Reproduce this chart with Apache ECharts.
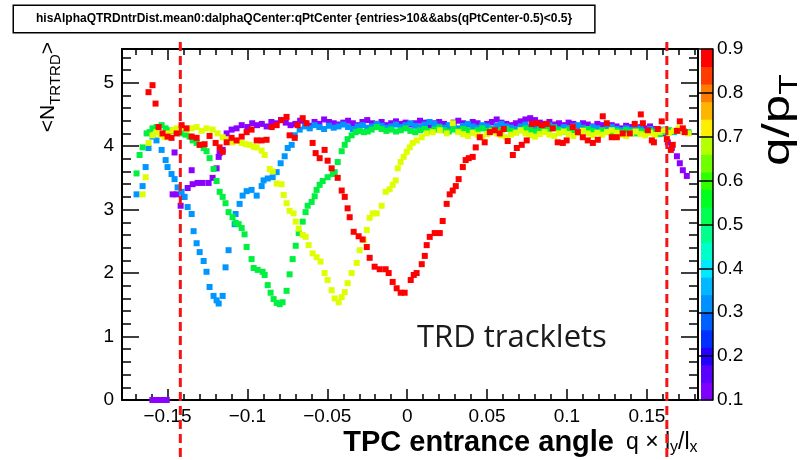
<!DOCTYPE html>
<html>
<head>
<meta charset="utf-8">
<title>hisAlphaQTRDntrDist</title>
<script src="https://cdn.jsdelivr.net/npm/echarts@6/dist/echarts.min.js"></script>
<style>
  html, body { margin: 0; padding: 0; background: #fff; }
  #chart { width: 807px; height: 460px; }
</style>
</head>
<body>
<div id="chart"></div>
<script>
// <N_TRTRD> versus TPC entrance angle, one series per q/pT bin
const qptValues = [0.1, 0.3, 0.5, 0.7, 0.9];
const qptColors = ['#8c00ff', '#0096ff', '#00f040', '#dfff00', '#ff0000'];

const ptsQ01 = [
  [-0.1595, 0], [-0.1565, 0], [-0.1535, 0], [-0.1505, 0],
  [-0.1468, 3.24], [-0.1456, 3.90], [-0.1443, 3.24], [-0.1418, 3.06], [-0.1400, 3.20], [-0.1374, 3.34],
  [-0.1349, 3.62], [-0.1343, 3.40], [-0.1312, 3.42], [-0.1281, 3.42], [-0.1243, 3.42], [-0.1218, 3.50],
  [-0.1193, 3.65], [-0.1180, 3.83], [-0.1174, 3.89], [-0.1155, 3.94], [-0.1130, 4.20], [-0.1099, 4.26],
  [-0.1068, 4.28], [-0.1036, 4.33],
  [-0.100, 4.30], [-0.097, 4.36], [-0.094, 4.33], [-0.091, 4.35], [-0.088, 4.31], [-0.085, 4.38],
  [-0.082, 4.36], [-0.079, 4.41], [-0.076, 4.37], [-0.073, 4.33], [-0.070, 4.35], [-0.067, 4.40],
  [-0.064, 4.36], [-0.061, 4.32], [-0.058, 4.38], [-0.055, 4.35], [-0.052, 4.42], [-0.049, 4.38],
  [-0.046, 4.36], [-0.043, 4.34], [-0.040, 4.37], [-0.037, 4.40], [-0.034, 4.36], [-0.031, 4.33],
  [-0.028, 4.38], [-0.025, 4.41], [-0.022, 4.36], [-0.019, 4.35], [-0.016, 4.38], [-0.013, 4.33],
  [-0.010, 4.36], [-0.007, 4.39], [-0.004, 4.35], [-0.001, 4.37], [0.002, 4.34], [0.005, 4.36],
  [0.008, 4.40], [0.011, 4.37], [0.014, 4.33], [0.017, 4.36], [0.020, 4.38], [0.023, 4.35],
  [0.026, 4.32], [0.029, 4.37], [0.032, 4.40], [0.035, 4.36], [0.038, 4.34], [0.041, 4.38],
  [0.044, 4.36], [0.047, 4.31], [0.050, 4.35], [0.053, 4.38], [0.056, 4.42], [0.059, 4.37],
  [0.062, 4.35], [0.065, 4.33], [0.068, 4.36], [0.071, 4.39], [0.074, 4.42], [0.077, 4.44],
  [0.080, 4.41], [0.083, 4.37], [0.086, 4.35], [0.089, 4.38], [0.092, 4.34], [0.095, 4.36],
  [0.098, 4.33], [0.101, 4.37], [0.104, 4.35], [0.107, 4.32], [0.110, 4.36], [0.113, 4.34],
  [0.116, 4.31], [0.119, 4.35], [0.122, 4.33], [0.125, 4.30], [0.128, 4.33], [0.131, 4.31],
  [0.134, 4.28], [0.137, 4.32], [0.140, 4.30], [0.143, 4.27], [0.146, 4.30], [0.149, 4.28],
  [0.152, 4.31], [0.155, 4.27], [0.158, 4.25], [0.161, 4.20],
  [0.1631, 4.06], [0.1656, 3.97], [0.1688, 3.84], [0.1706, 3.73], [0.1725, 3.62], [0.1750, 3.53]
];

const ptsQ03 = [
  [-0.1694, 3.24], [-0.1656, 3.37], [-0.1637, 3.67], [-0.1619, 3.97], [-0.1594, 4.15], [-0.1569, 4.09],
  [-0.1537, 3.94], [-0.1512, 3.78], [-0.1500, 3.67], [-0.1475, 3.56], [-0.1456, 3.48], [-0.1437, 3.35],
  [-0.1412, 3.28], [-0.1393, 3.20], [-0.1374, 3.04], [-0.1349, 2.93], [-0.1337, 2.66], [-0.1318, 2.47],
  [-0.1299, 2.33], [-0.1274, 2.19], [-0.1256, 2.02], [-0.1237, 1.78], [-0.1212, 1.64], [-0.1193, 1.57],
  [-0.1180, 1.52], [-0.1155, 1.64], [-0.1137, 2.09], [-0.1118, 2.36], [-0.1080, 2.77], [-0.1074, 2.93],
  [-0.1049, 3.09], [-0.1030, 3.22], [-0.1005, 3.29], [-0.0974, 3.31], [-0.0942, 3.22], [-0.0911, 3.37],
  [-0.0899, 3.46], [-0.0873, 3.49], [-0.0842, 3.51], [-0.0817, 3.59], [-0.0792, 3.73], [-0.0767, 3.84],
  [-0.0748, 3.97], [-0.0723, 4.02], [-0.0704, 4.17], [-0.0673, 4.26],
  [-0.064, 4.31], [-0.061, 4.28], [-0.058, 4.33], [-0.055, 4.30], [-0.052, 4.27], [-0.049, 4.32],
  [-0.046, 4.29], [-0.043, 4.31], [-0.040, 4.34], [-0.037, 4.30], [-0.034, 4.27], [-0.031, 4.31],
  [-0.028, 4.33], [-0.025, 4.29], [-0.022, 4.31], [-0.019, 4.35], [-0.016, 4.32], [-0.013, 4.29],
  [-0.010, 4.31], [-0.007, 4.34], [-0.004, 4.30], [-0.001, 4.33], [0.002, 4.36], [0.005, 4.32],
  [0.008, 4.30], [0.011, 4.34], [0.014, 4.38], [0.017, 4.35], [0.020, 4.31], [0.023, 4.29],
  [0.026, 4.33], [0.029, 4.30], [0.032, 4.28], [0.035, 4.32], [0.038, 4.35], [0.041, 4.31],
  [0.044, 4.29], [0.047, 4.33], [0.050, 4.31], [0.053, 4.28], [0.056, 4.32], [0.059, 4.35],
  [0.062, 4.31], [0.065, 4.29], [0.068, 4.27], [0.071, 4.31], [0.074, 4.34], [0.077, 4.30],
  [0.080, 4.28], [0.083, 4.31], [0.086, 4.29], [0.089, 4.33], [0.092, 4.30], [0.095, 4.27],
  [0.098, 4.30], [0.101, 4.28], [0.104, 4.31], [0.107, 4.33], [0.110, 4.29], [0.113, 4.27],
  [0.116, 4.30], [0.119, 4.28], [0.122, 4.25], [0.125, 4.28], [0.128, 4.30], [0.131, 4.27],
  [0.134, 4.25], [0.137, 4.28], [0.140, 4.26], [0.143, 4.29], [0.146, 4.27], [0.149, 4.24],
  [0.152, 4.27], [0.155, 4.25], [0.158, 4.23], [0.161, 4.26], [0.164, 4.24], [0.167, 4.22],
  [0.170, 4.25], [0.173, 4.23], [0.176, 4.21]
];

const ptsQ05 = [
  [-0.1694, 3.57], [-0.1675, 3.86], [-0.1656, 3.98], [-0.1631, 4.20], [-0.1612, 4.22], [-0.1594, 4.28],
  [-0.1569, 4.30], [-0.1537, 4.33], [-0.1512, 4.28], [-0.1487, 4.25], [-0.1462, 4.24], [-0.1437, 4.22],
  [-0.1412, 4.20], [-0.1387, 4.18], [-0.1362, 4.15], [-0.1343, 4.09], [-0.1318, 4.05], [-0.1299, 4.02],
  [-0.1274, 3.97], [-0.1256, 3.92], [-0.1237, 3.81], [-0.1212, 3.64], [-0.1193, 3.45], [-0.1174, 3.28],
  [-0.1155, 3.20], [-0.1137, 3.10], [-0.1118, 2.96], [-0.1093, 2.88], [-0.1074, 2.79], [-0.1055, 2.77],
  [-0.1036, 2.71], [-0.1018, 2.61], [-0.1005, 2.41], [-0.0974, 2.22], [-0.0961, 2.08], [-0.0936, 2.05],
  [-0.0905, 2.02], [-0.0892, 1.97], [-0.0873, 1.81], [-0.0855, 1.69], [-0.0836, 1.59], [-0.0817, 1.53],
  [-0.0798, 1.51], [-0.0780, 1.54], [-0.0755, 1.72], [-0.0736, 1.98], [-0.0717, 2.22], [-0.0698, 2.43],
  [-0.0679, 2.63], [-0.0654, 2.81], [-0.0636, 2.96], [-0.0623, 3.06], [-0.0598, 3.12], [-0.0579, 3.21],
  [-0.0567, 3.31], [-0.0548, 3.39], [-0.0529, 3.45], [-0.0498, 3.51], [-0.0466, 3.56], [-0.0454, 3.59],
  [-0.0435, 3.75], [-0.0410, 3.92], [-0.0391, 4.02], [-0.0373, 4.11], [-0.0348, 4.17], [-0.0322, 4.22],
  [-0.0297, 4.24], [-0.0272, 4.22], [-0.0247, 4.23], [-0.0222, 4.26], [-0.0191, 4.30],
  [-0.016, 4.27], [-0.013, 4.24], [-0.010, 4.26], [-0.007, 4.23], [-0.004, 4.25], [-0.001, 4.28],
  [0.002, 4.24], [0.005, 4.22], [0.008, 4.25], [0.011, 4.27], [0.014, 4.24], [0.017, 4.26],
  [0.020, 4.29], [0.023, 4.25], [0.026, 4.23], [0.029, 4.26], [0.032, 4.24], [0.035, 4.27],
  [0.038, 4.25], [0.041, 4.22], [0.044, 4.25], [0.047, 4.28], [0.050, 4.24], [0.053, 4.26],
  [0.056, 4.23], [0.059, 4.25], [0.062, 4.27], [0.065, 4.24], [0.068, 4.22], [0.071, 4.25],
  [0.074, 4.28], [0.077, 4.25], [0.080, 4.23], [0.083, 4.26], [0.086, 4.24], [0.089, 4.27],
  [0.092, 4.29], [0.095, 4.25], [0.098, 4.23], [0.101, 4.26], [0.104, 4.24], [0.107, 4.22],
  [0.110, 4.25], [0.113, 4.27], [0.116, 4.24], [0.119, 4.22], [0.122, 4.25], [0.125, 4.23],
  [0.128, 4.21], [0.131, 4.24], [0.134, 4.22], [0.137, 4.25], [0.140, 4.23], [0.143, 4.20],
  [0.146, 4.23], [0.149, 4.21], [0.152, 4.24], [0.155, 4.22], [0.158, 4.19], [0.161, 4.22],
  [0.164, 4.25], [0.167, 4.23], [0.170, 4.26], [0.173, 4.24], [0.176, 4.22]
];

const ptsQ07 = [
  [-0.1656, 3.24], [-0.1637, 3.51], [-0.1619, 4.05], [-0.1594, 4.17], [-0.1569, 4.22], [-0.1544, 4.18],
  [-0.1518, 4.14], [-0.1493, 4.20], [-0.1468, 4.25], [-0.1443, 4.28], [-0.1412, 4.30], [-0.1381, 4.26],
  [-0.1349, 4.28], [-0.1318, 4.30], [-0.1287, 4.24], [-0.1256, 4.28], [-0.1218, 4.26], [-0.1187, 4.20],
  [-0.1155, 4.14], [-0.1124, 4.10], [-0.1093, 4.06], [-0.1062, 4.08], [-0.1036, 4.05], [-0.1011, 4.03],
  [-0.0986, 4.02], [-0.0961, 3.99], [-0.0942, 3.98], [-0.0911, 3.93], [-0.0892, 3.86], [-0.0861, 3.64],
  [-0.0842, 3.60], [-0.0817, 3.41], [-0.0786, 3.40], [-0.0773, 3.23], [-0.0755, 3.10], [-0.0736, 2.98],
  [-0.0711, 2.94], [-0.0698, 2.81], [-0.0679, 2.70], [-0.0654, 2.60], [-0.0636, 2.57], [-0.0617, 2.44],
  [-0.0592, 2.31], [-0.0567, 2.25], [-0.0542, 2.18], [-0.0517, 2.00], [-0.0498, 1.89], [-0.0473, 1.73],
  [-0.0454, 1.60], [-0.0429, 1.54], [-0.0410, 1.62], [-0.0391, 1.70], [-0.0373, 1.84], [-0.0348, 2.00],
  [-0.0316, 2.16], [-0.0297, 2.36], [-0.0272, 2.52], [-0.0253, 2.68], [-0.0235, 2.87], [-0.0216, 2.94],
  [-0.0191, 2.94], [-0.0160, 3.06], [-0.0135, 3.28], [-0.0110, 3.32], [-0.0091, 3.39], [-0.0072, 3.46],
  [-0.0059, 3.65], [-0.0041, 3.75], [-0.0022, 3.83], [-0.0003, 3.91], [0.0016, 3.98], [0.0034, 4.05],
  [0.0059, 4.09], [0.0091, 4.14], [0.0122, 4.20], [0.0160, 4.22], [0.0204, 4.25], [0.0247, 4.20],
  [0.0285, 4.36],
  [0.032, 4.22], [0.035, 4.19], [0.038, 4.16], [0.041, 4.21], [0.044, 4.18], [0.047, 4.15],
  [0.050, 4.19], [0.053, 4.23], [0.056, 4.20], [0.059, 4.17], [0.062, 4.14], [0.065, 4.18],
  [0.068, 4.21], [0.071, 4.25], [0.074, 4.20], [0.077, 4.17], [0.080, 4.15], [0.083, 4.19],
  [0.086, 4.22], [0.089, 4.18], [0.092, 4.16], [0.095, 4.20], [0.098, 4.23], [0.101, 4.19],
  [0.104, 4.16], [0.107, 4.21], [0.110, 4.24], [0.113, 4.20], [0.116, 4.17], [0.119, 4.21],
  [0.122, 4.18], [0.125, 4.22], [0.128, 4.25], [0.131, 4.21], [0.134, 4.18], [0.137, 4.16],
  [0.140, 4.20], [0.143, 4.23], [0.146, 4.19], [0.149, 4.17], [0.152, 4.21], [0.155, 4.18],
  [0.158, 4.22], [0.161, 4.25], [0.164, 4.21], [0.167, 4.24], [0.170, 4.28], [0.173, 4.23],
  [0.176, 4.20]
];

const ptsQ09 = [
  [-0.1619, 4.85], [-0.1594, 4.96], [-0.1575, 4.67], [-0.1556, 4.30], [-0.1531, 4.20], [-0.1500, 4.15],
  [-0.1475, 4.13], [-0.1443, 4.20], [-0.1412, 4.33], [-0.1381, 4.28], [-0.1349, 4.15], [-0.1318, 4.13],
  [-0.1299, 4.02], [-0.1268, 4.03], [-0.1237, 4.16], [-0.1199, 4.05], [-0.1174, 3.98], [-0.1155, 3.91],
  [-0.1130, 4.06], [-0.1099, 4.13], [-0.1068, 4.09], [-0.1036, 4.15], [-0.1005, 4.22], [-0.0974, 4.26],
  [-0.0942, 4.09], [-0.0911, 4.09], [-0.0880, 4.10], [-0.0848, 4.30], [-0.0817, 4.33], [-0.0786, 4.41],
  [-0.0755, 4.46], [-0.0736, 4.17], [-0.0704, 4.13], [-0.0686, 4.33], [-0.0654, 4.44], [-0.0630, 4.36],
  [-0.0592, 4.05], [-0.0573, 3.89], [-0.0548, 3.81], [-0.0517, 3.94], [-0.0498, 3.77], [-0.0473, 3.65],
  [-0.0435, 3.50], [-0.0410, 3.30], [-0.0391, 3.20], [-0.0373, 3.02], [-0.0360, 2.88], [-0.0335, 2.65],
  [-0.0304, 2.58], [-0.0279, 2.53], [-0.0253, 2.41], [-0.0235, 2.24], [-0.0204, 2.10], [-0.0172, 2.06],
  [-0.0135, 2.06], [-0.0116, 2.00], [-0.0091, 1.86], [-0.0066, 1.76], [-0.0041, 1.69], [-0.0016, 1.69],
  [0.0022, 1.89], [0.0041, 1.97], [0.0059, 2.00], [0.0091, 2.14], [0.0110, 2.27], [0.0122, 2.44],
  [0.0141, 2.57], [0.0172, 2.63], [0.0204, 2.63], [0.0222, 2.82], [0.0247, 3.09], [0.0266, 3.24],
  [0.0285, 3.30], [0.0304, 3.37], [0.0322, 3.48], [0.0348, 3.67], [0.0366, 3.78], [0.0385, 3.81],
  [0.0410, 3.83], [0.0429, 3.98], [0.0454, 4.14], [0.0485, 4.06], [0.0517, 4.22], [0.0548, 4.25],
  [0.0579, 4.20], [0.0604, 4.27], [0.0629, 4.08], [0.0661, 3.86], [0.0686, 3.97], [0.0717, 4.02],
  [0.0748, 4.09], [0.0780, 4.35], [0.0811, 4.36], [0.0842, 4.33], [0.0874, 4.35], [0.0911, 4.28],
  [0.0942, 4.06], [0.0974, 4.05], [0.0998, 4.09], [0.1036, 4.30], [0.1068, 4.22], [0.1099, 4.14],
  [0.1130, 4.09], [0.1162, 4.05], [0.1193, 4.10], [0.1224, 4.47], [0.1249, 4.36], [0.1280, 4.14],
  [0.1312, 4.14], [0.1349, 4.20], [0.1393, 4.20], [0.1424, 4.35], [0.1462, 4.50], [0.1475, 4.36],
  [0.1506, 4.25], [0.1531, 4.09], [0.1544, 4.06], [0.1568, 4.27], [0.1593, 4.39], [0.1625, 4.11],
  [0.1650, 3.94], [0.1662, 4.02], [0.1688, 4.24], [0.1706, 4.39], [0.1725, 4.28], [0.1737, 4.22]
];

const seriesPoints = [ptsQ01, ptsQ03, ptsQ05, ptsQ07, ptsQ09];

// axis ticks
const xMajorTicks = [-0.15, -0.1, -0.05, 0, 0.05, 0.1, 0.15];
const yMajorTicks = [0, 1, 2, 3, 4, 5];
const zMajorTicks = [0.1, 0.2, 0.3, 0.4, 0.5, 0.6, 0.7, 0.8, 0.9];
const xMinorTicks = [];
for (let k = -17; k <= 18; k++) if (k % 5 !== 0) xMinorTicks.push(k / 100);
const yMinorTicks = [];
for (let k = 1; k <= 27; k++) if (k % 5 !== 0) yMinorTicks.push(k / 5);

// colour palette of the z axis (bands from 0.1 to 0.9)
const zEdges = [0.10, 0.14, 0.18, 0.22, 0.26, 0.30, 0.34, 0.38, 0.42, 0.46, 0.50,
                0.54, 0.58, 0.62, 0.66, 0.70, 0.74, 0.78, 0.82, 0.86, 0.90];
const zBandColors = ['#8000ff', '#5a00ff', '#2400ff', '#0030ff', '#0060ff', '#0090ff', '#00b8ff',
                     '#00eaff', '#00ffc8', '#00ff8c', '#00ff50', '#00ff20', '#30ff00', '#70ff00',
                     '#b4ff00', '#ffee00', '#ffb400', '#ff7c00', '#ff3c00', '#ff0000'];

// analysis cut lines
const cutLines = [-0.142, 0.1625];

const X_MIN = -0.1785, X_MAX = 0.182, Y_MIN = 0, Y_MAX = 5.53;
const FONT = '"Liberation Sans", Arial, sans-serif';
const titleText = 'hisAlphaQTRDntrDist.mean0:dalphaQCenter:qPtCenter {entries>10&&abs(qPtCenter-0.5)<0.5}';

const chart = echarts.init(document.getElementById('chart'), null, { renderer: 'canvas' });

const frameLine = { show: true, onZero: false, lineStyle: { color: '#000', width: 2 } };
const noLine = { show: false, onZero: false };
const minus = v => (v < 0 ? '\u2212' : '') + Math.abs(v);

function xAx(position, ticks, len, withLabel, withLine) {
  return {
    type: 'value', gridIndex: 0, position, min: X_MIN, max: X_MAX,
    axisLine: withLine ? frameLine : noLine,
    axisTick: { show: true, inside: true, length: len, customValues: ticks, lineStyle: { color: '#000', width: 1.5 } },
    axisLabel: withLabel
      ? { show: true, customValues: xMajorTicks, formatter: minus, margin: 7, color: '#000', fontSize: 19, fontFamily: FONT }
      : { show: false },
    splitLine: { show: false }
  };
}
function yAx(position, ticks, len, withLabel, withLine) {
  return {
    type: 'value', gridIndex: 0, position, min: Y_MIN, max: Y_MAX,
    axisLine: withLine ? frameLine : noLine,
    axisTick: { show: true, inside: true, length: len, customValues: ticks, lineStyle: { color: '#000', width: 1.5 } },
    axisLabel: withLabel
      ? { show: true, customValues: yMajorTicks, margin: 8, color: '#000', fontSize: 19, fontFamily: FONT }
      : { show: false },
    splitLine: { show: false }
  };
}

const scatterSeries = seriesPoints.map((pts, i) => ({
  name: 'q/pT = ' + qptValues[i],
  type: 'scatter',
  xAxisIndex: 0,
  yAxisIndex: 0,
  symbol: 'rect',
  symbolSize: 6,
  itemStyle: { color: qptColors[i], opacity: 1 },
  data: pts,
  silent: true
}));

const paletteSeries = {
  type: 'custom',
  xAxisIndex: 4,
  yAxisIndex: 4,
  silent: true,
  data: zBandColors.map((c, i) => [0, zEdges[i], zEdges[i + 1], i]),
  renderItem(params, api) {
    const p0 = api.coord([0, api.value(1)]);
    const p1 = api.coord([1, api.value(2)]);
    return {
      type: 'rect',
      shape: { x: p0[0], y: p1[1] - 0.5, width: p1[0] - p0[0], height: p0[1] - p1[1] + 1 },
      style: { fill: zBandColors[api.value(3)] }
    };
  }
};

chart.setOption({
  animation: false,
  backgroundColor: '#fff',
  grid: [
    { left: 122, top: 49, width: 576, height: 351, show: false },
    { left: 701, top: 49, width: 12, height: 351, show: false }
  ],
  xAxis: [
    xAx('bottom', xMajorTicks, 11, true, true),
    xAx('bottom', xMinorTicks, 6, false, false),
    xAx('top', xMajorTicks, 11, false, true),
    xAx('top', xMinorTicks, 6, false, false),
    { type: 'value', gridIndex: 1, min: 0, max: 1, show: false }
  ],
  yAxis: [
    yAx('left', yMajorTicks, 17, true, true),
    yAx('left', yMinorTicks, 9, false, false),
    yAx('right', yMajorTicks, 17, false, true),
    yAx('right', yMinorTicks, 9, false, false),
    {
      type: 'value', gridIndex: 1, position: 'right', min: 0.1, max: 0.9, z: 10,
      axisLine: { show: true, onZero: false, lineStyle: { color: '#000', width: 1.5 } },
      axisTick: { show: true, inside: true, length: 14, customValues: zMajorTicks, lineStyle: { color: '#000', width: 1.5 } },
      axisLabel: { show: true, customValues: zMajorTicks, margin: 4, color: '#000', fontSize: 19, fontFamily: FONT },
      splitLine: { show: false }
    }
  ],
  series: scatterSeries.concat([paletteSeries])
});

// text decorations and the two dashed cut lines (placed from data values)
const cutGraphics = cutLines.map(v => {
  const px = chart.convertToPixel({ xAxisIndex: 0 }, v);
  return {
    type: 'line', z: 100,
    shape: { x1: px, y1: 42, x2: px, y2: 462 },
    style: { stroke: '#f41414', lineWidth: 3, lineDash: [9, 5] }
  };
});

chart.setOption({
  graphic: [
    {
      type: 'text', x: 14, y: 6, z: 50,
      style: {
        text: titleText, font: 'bold 12px ' + FONT, fill: '#000',
        backgroundColor: '#fff', borderColor: '#000', borderWidth: 1.5,
        padding: [6, 22, 6, 22], lineHeight: 14
      }
    },
    {
      type: 'text', x: 48, y: 42, rotation: Math.PI / 2, z: 50,
      style: {
        text: '{a|<N}{s|TRTRD}{a|>}', align: 'right', verticalAlign: 'middle',
        rich: {
          a: { font: '21px ' + FONT, fill: '#000', lineHeight: 30, verticalAlign: 'middle' },
          s: { font: '15px ' + FONT, fill: '#000', lineHeight: 14, verticalAlign: 'bottom' }
        }
      }
    },
    {
      type: 'text', x: 779, y: 120, rotation: Math.PI / 2, scaleX: 1.35, z: 50,
      style: {
        text: '{a|q/p}{s|T}', align: 'center', verticalAlign: 'middle',
        rich: {
          a: { font: '38px ' + FONT, fill: '#000', lineHeight: 48, verticalAlign: 'middle' },
          s: { font: '25px ' + FONT, fill: '#000', lineHeight: 22, verticalAlign: 'bottom' }
        }
      }
    },
    {
      type: 'text', x: 614, y: 443, z: 50,
      style: { text: 'TPC entrance angle', font: 'bold 29px ' + FONT, fill: '#000', align: 'right', verticalAlign: 'middle' }
    },
    {
      type: 'text', x: 626, y: 443, z: 50,
      style: {
        text: '{r|q \u00d7 l}{s|y}{r|/l}{s|x}', align: 'left', verticalAlign: 'middle',
        rich: {
          r: { font: '23px ' + FONT, fill: '#000', lineHeight: 26, verticalAlign: 'middle' },
          s: { font: '16px ' + FONT, fill: '#000', lineHeight: 14, verticalAlign: 'bottom' }
        }
      }
    },
    {
      type: 'text', x: 417, y: 338, z: 50,
      style: { text: 'TRD tracklets', font: '31px "Open Sans", Lato, sans-serif', fill: '#1a1a1a', align: 'left', verticalAlign: 'middle' }
    }
  ].concat(cutGraphics)
});
</script>
</body>
</html>
